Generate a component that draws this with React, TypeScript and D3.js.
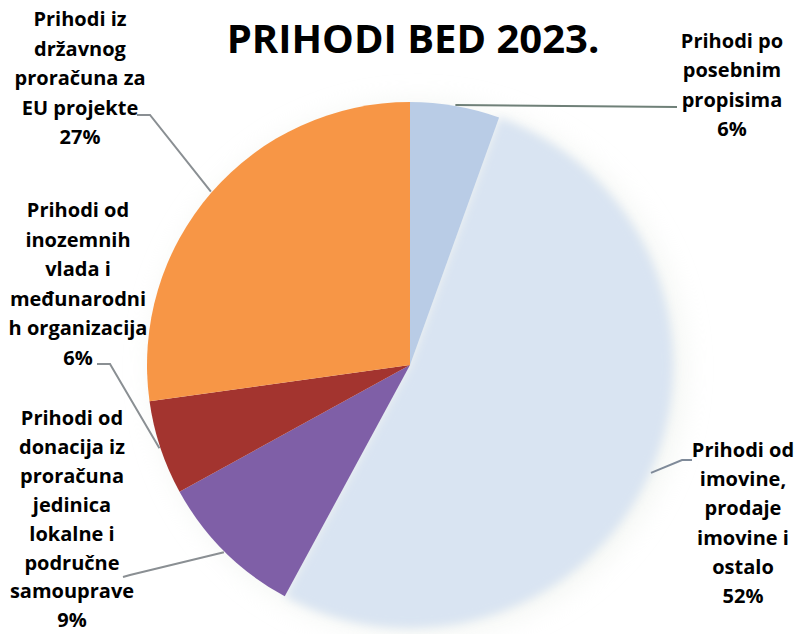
import React from "react";
import * as d3 from "d3";

const categories = [
  "Prihodi po posebnim propisima",
  "Prihodi od imovine, prodaje imovine i ostalo",
  "Prihodi od donacija iz proračuna jedinica lokalne i područne samouprave",
  "Prihodi od inozemnih vlada i međunarodnih organizacija",
  "Prihodi iz državnog proračuna za EU projekte",
];
const values = [5.5, 52.4, 9.1, 5.8, 27.2];
const percentLabels = ["6%", "52%", "9%", "6%", "27%"];
const labelLines = [
  ["Prihodi po", "posebnim", "propisima"],
  ["Prihodi od", "imovine,", "prodaje", "imovine i", "ostalo"],
  ["Prihodi od", "donacija iz", "proračuna", "jedinica", "lokalne i", "područne", "samouprave"],
  ["Prihodi od", "inozemnih", "vlada i", "međunarodni", "h organizacija"],
  ["Prihodi iz", "državnog", "proračuna za", "EU projekte"],
];
const title = "PRIHODI BED 2023.";

// layout
const W = 803;
const H = 634;
const CX = 410;
const CY = 365;
const R = 263;
const colors = ["#b9cce6", "#d9e4f2", "#7f5fa7", "#a3342f", "#f79646"];
const labelPos = [
  { x: 732, y: 48, lh: 29.3 },
  { x: 743, y: 457, lh: 29.2 },
  { x: 72, y: 425, lh: 28.9 },
  { x: 78, y: 217, lh: 29.6 },
  { x: 80, y: 26, lh: 29.5 },
];
const leaderPts = [
  [[677, 107]],
  [[682, 460], [692, 460]],
  [[130, 575], [123, 577]],
  [[110, 364], [97, 364]],
  [[150, 115], [137, 115]],
];
const leaderColors = ["#6f8078", "#7f8a99", "#8a8f93", "#8a8f93", "#8a8f93"];

export default function App() {
  const data = values.map((v, i) => ({ name: categories[i], value: v, i }));
  const pie = d3
    .pie<any>()
    .sort(null)
    .startAngle(0)
    .endAngle(2 * Math.PI)
    .value((d: any) => d.value);
  const arcs = pie(data);
  const arc = d3.arc<any>().innerRadius(0).outerRadius(R);
  const edgeArc = d3.arc<any>().innerRadius(R + 1).outerRadius(R + 1);
  const font = "'Open Sans', 'Noto Sans', sans-serif";
  const line = d3.line();

  return (
    <div style={{ position: "fixed", left: 0, top: 0, width: W, height: H, background: "#fff" }}>
      <svg width={W} height={H} viewBox={`0 0 ${W} ${H}`}>
        <defs>
          <filter id="soft" x="-20%" y="-20%" width="140%" height="140%">
            <feGaussianBlur stdDeviation="5" />
          </filter>
          <filter id="glow" x="-30%" y="-30%" width="160%" height="160%">
            <feGaussianBlur stdDeviation="14" />
          </filter>
        </defs>
        <circle cx={CX + 8} cy={CY + 4} r={R + 2} fill="#e6ebe4" opacity={0.5} filter="url(#glow)" />
        <g transform={`translate(${CX},${CY})`}>
          {arcs
            .filter((a) => a.index === 1)
            .map((a) => (
              <path key="big" d={arc(a) as string} fill={colors[1]} filter="url(#soft)" />
            ))}
          {arcs
            .filter((a) => a.index !== 1)
            .map((a) => (
              <path key={a.index} d={arc(a) as string} fill={colors[a.index]} />
            ))}
        </g>
        {arcs.map((a) => {
          const c = edgeArc.centroid(a);
          const pts: [number, number][] = [[CX + c[0], CY + c[1]], ...(leaderPts[a.index] as [number, number][])];
          return (
            <path
              key={"l" + a.index}
              d={line(pts) as string}
              fill="none"
              stroke={leaderColors[a.index]}
              strokeWidth={2}
            />
          );
        })}
        <text
          x={413}
          y={53}
          textAnchor="middle"
          fontFamily={font}
          fontWeight={700}
          fontSize={40}
          fill="#000"
        >
          {title}
        </text>
        {labelLines.map((lines, i) => {
          const p = labelPos[i];
          const all = [...lines, percentLabels[i]];
          return (
            <text
              key={"t" + i}
              textAnchor="middle"
              fontFamily={font}
              fontWeight={700}
              fontSize={20}
              fill="#000"
            >
              {all.map((s, j) => (
                <tspan key={j} x={p.x} y={p.y + j * p.lh}>
                  {s}
                </tspan>
              ))}
            </text>
          );
        })}
      </svg>
    </div>
  );
}
